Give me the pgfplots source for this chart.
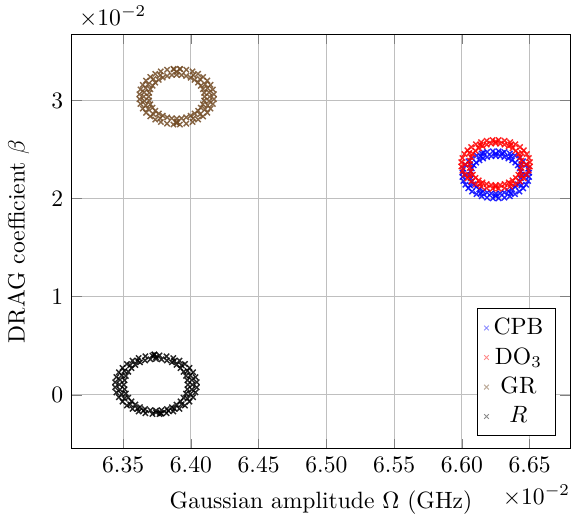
\documentclass[border={0pt 0pt 0pt 2.5pt}]{standalone}
\usepackage{pgfplots}
\pgfplotsset{compat=1.18}
\usepackage{pgfplotstable}

% Optimised pulse parameters (both axes in units of 1e-2)
\pgfplotstableread{
x y
6.6438 2.244
6.6435 2.278
6.6427 2.310
6.6413 2.341
6.6394 2.368
6.6371 2.392
6.6344 2.411
6.6314 2.425
6.6283 2.434
6.6250 2.437
6.6062 2.244
6.6065 2.278
6.6073 2.310
6.6087 2.341
6.6106 2.368
6.6129 2.392
6.6156 2.411
6.6186 2.425
6.6217 2.434
6.6065 2.210
6.6073 2.178
6.6087 2.147
6.6106 2.120
6.6129 2.096
6.6156 2.077
6.6186 2.063
6.6217 2.054
6.6250 2.051
6.6435 2.210
6.6427 2.178
6.6413 2.147
6.6394 2.120
6.6371 2.096
6.6344 2.077
6.6314 2.063
6.6283 2.054
6.6496 2.265
6.6489 2.306
6.6474 2.346
6.6452 2.382
6.6425 2.414
6.6392 2.441
6.6354 2.462
6.6314 2.477
6.6271 2.484
6.6004 2.265
6.6011 2.306
6.6026 2.346
6.6048 2.382
6.6075 2.414
6.6108 2.441
6.6146 2.462
6.6186 2.477
6.6229 2.484
6.6004 2.223
6.6011 2.182
6.6026 2.142
6.6048 2.106
6.6075 2.074
6.6108 2.047
6.6146 2.026
6.6186 2.011
6.6229 2.004
6.6496 2.223
6.6489 2.182
6.6474 2.142
6.6452 2.106
6.6425 2.074
6.6392 2.047
6.6354 2.026
6.6314 2.011
6.6271 2.004
6.6468 2.244
6.6439 2.353
6.6359 2.432
6.6250 2.461
6.6141 2.432
6.6061 2.353
6.6032 2.244
6.6061 2.135
6.6141 2.056
6.6250 2.027
6.6359 2.056
6.6439 2.135
6.6160 2.470
6.6300 2.465
}\cpb

\pgfplotstableread{
x y
6.6443 2.351
6.6440 2.388
6.6431 2.424
6.6417 2.458
6.6398 2.489
6.6374 2.515
6.6346 2.536
6.6315 2.552
6.6283 2.562
6.6249 2.565
6.6055 2.351
6.6058 2.388
6.6067 2.424
6.6081 2.458
6.6100 2.489
6.6124 2.515
6.6152 2.536
6.6183 2.552
6.6215 2.562
6.6058 2.314
6.6067 2.278
6.6081 2.244
6.6100 2.213
6.6124 2.187
6.6152 2.166
6.6183 2.150
6.6215 2.140
6.6249 2.137
6.6440 2.314
6.6431 2.278
6.6417 2.244
6.6398 2.213
6.6374 2.187
6.6346 2.166
6.6315 2.150
6.6283 2.140
6.6502 2.373
6.6494 2.415
6.6479 2.456
6.6457 2.494
6.6429 2.527
6.6395 2.555
6.6356 2.577
6.6315 2.592
6.6271 2.599
6.5996 2.373
6.6004 2.415
6.6019 2.456
6.6041 2.494
6.6069 2.527
6.6103 2.555
6.6142 2.577
6.6183 2.592
6.6227 2.599
6.5996 2.329
6.6004 2.287
6.6019 2.246
6.6041 2.208
6.6069 2.175
6.6103 2.147
6.6142 2.125
6.6183 2.110
6.6227 2.103
6.6502 2.329
6.6494 2.287
6.6479 2.246
6.6457 2.208
6.6429 2.175
6.6395 2.147
6.6356 2.125
6.6315 2.110
6.6271 2.103
6.6473 2.351
6.6443 2.467
6.6361 2.551
6.6249 2.583
6.6137 2.551
6.6055 2.467
6.6025 2.351
6.6055 2.235
6.6137 2.151
6.6249 2.120
6.6361 2.151
6.6443 2.235
}\dothree

\pgfplotstableread{
x y
6.4101 3.041
6.4098 3.080
6.4089 3.118
6.4073 3.153
6.4053 3.185
6.4027 3.213
6.3998 3.235
6.3965 3.252
6.3931 3.262
6.3895 3.265
6.3689 3.041
6.3692 3.080
6.3701 3.118
6.3717 3.153
6.3737 3.185
6.3763 3.213
6.3792 3.235
6.3825 3.252
6.3859 3.262
6.3692 3.002
6.3701 2.964
6.3717 2.929
6.3737 2.897
6.3763 2.869
6.3792 2.847
6.3825 2.830
6.3859 2.820
6.3895 2.817
6.4098 3.002
6.4089 2.964
6.4073 2.929
6.4053 2.897
6.4027 2.869
6.3998 2.847
6.3965 2.830
6.3931 2.820
6.4170 3.066
6.4162 3.115
6.4145 3.162
6.4121 3.205
6.4090 3.242
6.4053 3.274
6.4012 3.299
6.3966 3.316
6.3919 3.325
6.3620 3.066
6.3628 3.115
6.3645 3.162
6.3669 3.205
6.3700 3.242
6.3737 3.274
6.3778 3.299
6.3824 3.316
6.3871 3.325
6.3620 3.016
6.3628 2.967
6.3645 2.920
6.3669 2.877
6.3700 2.840
6.3737 2.808
6.3778 2.783
6.3824 2.766
6.3871 2.757
6.4170 3.016
6.4162 2.967
6.4145 2.920
6.4121 2.877
6.4090 2.840
6.4053 2.808
6.4012 2.783
6.3966 2.766
6.3919 2.757
6.4138 3.041
6.4134 3.085
6.4134 2.997
6.4123 3.128
6.4123 2.954
6.4105 3.168
6.4105 2.914
6.3652 3.041
6.3656 3.085
6.3656 2.997
6.3667 3.128
6.3667 2.954
6.3685 3.168
6.3685 2.914
6.4067 3.221
6.3723 3.221
6.3723 2.861
6.4067 2.861
6.4017 3.261
6.3773 3.261
6.3773 2.821
6.4017 2.821
6.3895 3.295
6.3895 2.787
6.3875 3.320
6.3920 3.322
6.3895 2.772
6.3895 2.772
}\gr

\pgfplotstableread{
x y
6.3978 0.102
6.3974 0.148
6.3964 0.192
6.3946 0.234
6.3923 0.272
6.3894 0.304
6.3860 0.331
6.3823 0.350
6.3783 0.362
6.3742 0.366
6.3506 0.102
6.3510 0.148
6.3520 0.192
6.3538 0.234
6.3561 0.272
6.3590 0.304
6.3624 0.331
6.3661 0.350
6.3701 0.362
6.3510 0.056
6.3520 0.012
6.3538 -0.030
6.3561 -0.068
6.3590 -0.100
6.3624 -0.127
6.3661 -0.146
6.3701 -0.158
6.3742 -0.162
6.3974 0.056
6.3964 0.012
6.3946 -0.030
6.3923 -0.068
6.3894 -0.100
6.3860 -0.127
6.3823 -0.146
6.3783 -0.158
6.4043 0.128
6.4034 0.180
6.4016 0.229
6.3989 0.274
6.3956 0.314
6.3915 0.348
6.3870 0.374
6.3820 0.392
6.3768 0.401
6.3441 0.128
6.3450 0.180
6.3468 0.229
6.3495 0.274
6.3528 0.314
6.3569 0.348
6.3614 0.374
6.3664 0.392
6.3716 0.401
6.3441 0.076
6.3450 0.024
6.3468 -0.025
6.3495 -0.070
6.3528 -0.110
6.3569 -0.144
6.3614 -0.170
6.3664 -0.188
6.3716 -0.197
6.4043 0.076
6.4034 0.024
6.4016 -0.025
6.3989 -0.070
6.3956 -0.110
6.3915 -0.144
6.3870 -0.170
6.3820 -0.188
6.3768 -0.197
6.4011 0.102
6.4007 0.151
6.4007 0.053
6.3995 0.198
6.3995 0.006
6.3975 0.243
6.3975 -0.039
6.3473 0.102
6.3477 0.151
6.3477 0.053
6.3489 0.198
6.3489 0.006
6.3509 0.243
6.3509 -0.039
6.3932 0.301
6.3552 0.301
6.3552 -0.097
6.3932 -0.097
6.3877 0.346
6.3607 0.346
6.3607 -0.142
6.3877 -0.142
6.3742 0.384
6.3650 -0.163
6.3742 -0.180
6.3834 -0.163
6.3730 0.410
6.3730 0.410
6.3780 -0.190
6.3780 -0.190
}\rr

\begin{document}
\begin{tikzpicture}
\begin{axis}[
  scale only axis,
  width=211.6pt, height=175.8pt,
  xmin=6.3119, xmax=6.6802,
  ymin=-0.55, ymax=3.68,
  xtick={6.35,6.40,6.45,6.50,6.55,6.60,6.65},
  ytick={0,1,2,3},
  xticklabel style={/pgf/number format/fixed, /pgf/number format/fixed zerofill, /pgf/number format/precision=2},
  scaled x ticks=manual:{$\times 10^{-2}$}{\pgfmathparse{#1}},
  scaled y ticks=manual:{$\times 10^{-2}$}{\pgfmathparse{#1}},
  every x tick scale label/.style={at={(xticklabel cs:1,2pt)}, anchor=north east, inner sep=0pt},
  every y tick scale label/.append style={yshift=-2.5pt},
  grid=major,
  xlabel={Gaussian amplitude $\Omega$ (GHz)},
  ylabel={DRAG coefficient $\beta$},
  ylabel shift=2.5pt,
  xlabel shift=1pt,
  legend style={at={(0.97,0.03)}, anchor=south east},
  every axis plot/.append style={only marks, mark=x, mark size=1.6pt, line width=0.6pt, opacity=0.85},
  legend image post style={opacity=0.45, line width=0.4pt, mark size=1.4pt},
]
\addplot[blue] table[x=x, y=y] {\cpb};
\addlegendentry{CPB}
\addplot[red] table[x=x, y=y] {\dothree};
\addlegendentry{DO$_3$}
\addplot[brown!60!black] table[x=x, y=y] {\gr};
\addlegendentry{GR}
\addplot[black] table[x=x, y=y] {\rr};
\addlegendentry{$R$}
\end{axis}
\end{tikzpicture}
\end{document}
